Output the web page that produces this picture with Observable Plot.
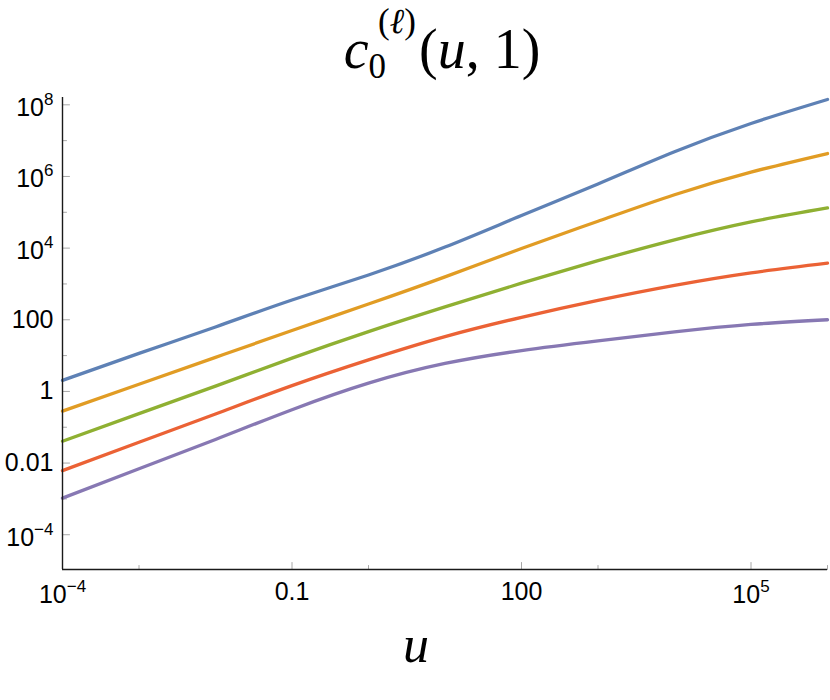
<!DOCTYPE html>
<html>
<head>
<meta charset="utf-8">
<script src="https://cdn.jsdelivr.net/npm/d3@7"></script>
<script src="https://cdn.jsdelivr.net/npm/@observablehq/plot@0.6"></script>
<style>
  body { margin: 0; background: #fff; }
</style>
</head>
<body>
<div id="chart"></div>
<script>
// ---- data ----
const uValues = [1e-4, 1e-3, 0.01, 0.1, 1, 10, 100, 1000, 1e4, 1e5, 1e6];
const seriesNames = ["ℓ = 0", "ℓ = 1", "ℓ = 2", "ℓ = 3", "ℓ = 4"];
const seriesColors = ["#5E81B5", "#E19C24", "#8FB032", "#EB6235", "#8778B3"];
const blueValues   = [2.04, 11.5, 63.1, 355, 1780, 10700, 81300, 617000, 4.9e6, 3.02e7, 1.41e8];
const orangeValues = [0.282, 1.58, 8.91, 50.1, 275, 1580, 9770, 56200, 309000, 1.32e6, 4.37e6];
const greenValues  = [0.0407, 0.240, 1.41, 8.51, 46.8, 229, 1050, 4470, 17000, 53700, 132000];
const redValues    = [0.00617, 0.0380, 0.234, 1.45, 7.59, 33.9, 117, 347, 912, 2040, 3800];
const purpleValues = [0.00105, 0.00692, 0.0457, 0.309, 1.70, 6.03, 13.8, 25.7, 45.7, 74.1, 100];
const allSeries = [blueValues, orangeValues, greenValues, redValues, purpleValues];

const xDomain = [1e-4, 1e6];
const yDomain = [1.07e-5, 1.6e8];
const xMajorTicks = [1e-4, 0.1, 100, 1e5];
const xMajorLabels = ["10^−4", "0.1", "100", "10^5"];
const xMinorTicks = [1e-3, 1, 1000, 1e6];
const yMajorTicks = [1e-4, 1e-2, 1, 100, 1e4, 1e6, 1e8];
const yMajorLabels = ["10^−4", "0.01", "1", "100", "10^4", "10^6", "10^8"];
const yMinorTicks = [1e-3, 0.1, 10, 1000, 1e5, 1e7];

// tidy table
const rows = [];
allSeries.forEach((vals, si) => {
  vals.forEach((v, i) => rows.push({series: seriesNames[si], u: uValues[i], c: v}));
});

const tickShape = {draw(ctx, l) { ctx.moveTo(0, 0); ctx.lineTo(0, -l); }};
const tickColor = "#a8a8a8";
const sans = "'Liberation Sans', Arial, Helvetica, sans-serif";

const chart = Plot.plot({
  width: 830,
  height: 700,
  marginLeft: 62,
  marginRight: 3,
  marginTop: 97,
  marginBottom: 131,
  style: {fontFamily: sans, fontSize: "25px", background: "#fff", color: "#000"},
  x: {type: "log", domain: xDomain},
  y: {type: "log", domain: yDomain},
  color: {domain: seriesNames, range: seriesColors},
  marks: [
    // tick marks (inside)
    Plot.vector(yMajorTicks, {y: d => d, frameAnchor: "left", length: 7, rotate: 90, anchor: "start", shape: tickShape, stroke: tickColor, strokeWidth: 1}),
    Plot.vector(yMinorTicks, {y: d => d, frameAnchor: "left", length: 4, rotate: 90, anchor: "start", shape: tickShape, stroke: tickColor, strokeWidth: 1}),
    Plot.vector(xMajorTicks, {x: d => d, frameAnchor: "bottom", length: 7, rotate: 0, anchor: "start", shape: tickShape, stroke: tickColor, strokeWidth: 1}),
    Plot.vector(xMinorTicks, {x: d => d, frameAnchor: "bottom", length: 4, rotate: 0, anchor: "start", shape: tickShape, stroke: tickColor, strokeWidth: 1}),
    // tick labels
    Plot.axisY(yMajorTicks, {tickSize: 0, tickPadding: 9, tickFormat: (d) => yMajorLabels[yMajorTicks.indexOf(d)], label: null, fill: "#000", fontFamily: sans, fontSize: 25}),
    Plot.axisX(xMajorTicks, {tickSize: 0, tickPadding: 13, tickFormat: (d) => xMajorLabels[xMajorTicks.indexOf(d)], label: null, fill: "#000", fontFamily: sans, fontSize: 25}),
    // curves
    Plot.line(rows, {x: "u", y: "c", z: "series", stroke: "series", strokeWidth: 3.3, curve: "natural"}),
    // axis lines
    Plot.ruleX([xDomain[0]], {stroke: "#1a1a1a", strokeWidth: 1.4}),
    Plot.ruleY([yDomain[0]], {stroke: "#1a1a1a", strokeWidth: 1.4})
  ]
});

document.getElementById("chart").appendChild(chart);

// superscripts in tick labels
const NS = "http://www.w3.org/2000/svg";
d3.select(chart).selectAll("text").each(function() {
  const s = this.textContent;
  const i = s.indexOf("^");
  if (i < 0) return;
  const base = s.slice(0, i), exp = s.slice(i + 1);
  this.textContent = "";
  const t1 = document.createElementNS(NS, "tspan");
  t1.setAttribute("dy", "3");
  t1.textContent = base;
  const t2 = document.createElementNS(NS, "tspan");
  t2.setAttribute("dy", "-11");
  t2.setAttribute("font-size", "17");
  t2.textContent = exp;
  this.append(t1, t2);
});

// title and axis label
const svg = d3.select(chart);
const serif = "'Liberation Serif', 'DejaVu Serif', 'Times New Roman', serif";
const title = svg.append("text")
  .attr("x", 442).attr("y", 68)
  .attr("text-anchor", "middle")
  .attr("font-family", serif)
  .attr("font-size", 56)
  .attr("fill", "#000");
title.append("tspan").attr("font-style", "italic").text("c");
title.append("tspan").attr("font-size", 35).attr("dy", 10).text("0");
title.append("tspan").attr("font-size", 35).attr("dx", -8).attr("dy", -45).text("(");
title.append("tspan").attr("font-size", 35).attr("font-style", "italic").text("ℓ");
title.append("tspan").attr("font-size", 35).text(")");
title.append("tspan").attr("dx", 3).attr("dy", 35).text("(");
title.append("tspan").attr("font-style", "italic").text("u");
title.append("tspan").text(", 1)");

svg.append("text")
  .attr("x", 416).attr("y", 662)
  .attr("text-anchor", "middle")
  .attr("font-family", serif)
  .attr("font-style", "italic")
  .attr("font-size", 52)
  .attr("fill", "#000")
  .text("u");
</script>
</body>
</html>
